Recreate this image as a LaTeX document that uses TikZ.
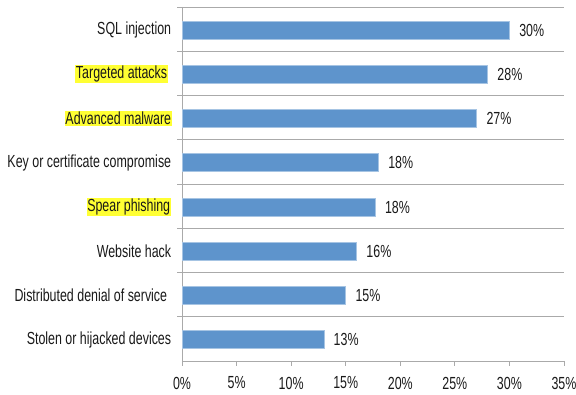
\documentclass[tikz,border=0pt]{standalone}
\usepackage{fontspec}
\setmainfont{Liberation Sans}
\definecolor{barblue}{RGB}{94,148,204}
\definecolor{gridgray}{RGB}{170,170,170}
\definecolor{marker}{RGB}{255,255,51}
\tikzset{
  lbl/.style={font=\fontsize{17.5}{20}\selectfont, text=black!90, inner sep=1pt, xscale=0.71, transform shape},
  catlbl/.style={lbl, anchor=east},
  hilite/.style={catlbl, fill=marker},
  vallbl/.style={lbl, anchor=west},
  bar/.style={fill=barblue, draw=barblue!55!white, line width=0.6pt},
  gridline/.style={gridgray, line width=0.9pt}
}
\begin{document}
\begin{tikzpicture}[x=1pt, y=-1pt]
\useasboundingbox (0,0) rectangle (576,395);
% axes and separators
\draw[gridline] (182,7) -- (182,361) -- (564,361);
\foreach \k in {0,...,7}
  \draw[gridline] (177,7+44.25*\k) -- (564,7+44.25*\k);
\foreach \t/\p in {0/0,1/5,2/10,3/15,4/20,5/25,6/30,7/35}
{
\draw[gridline] (182+54.571*\t,361) -- (182+54.571*\t,366);
\node[lbl] (tick\t) at (182+54.571*\t,383) {\p\%};
}
% bars with labels
\foreach \i/\v/\len/\hl/\xe/\name in {0/30/30/0/172/SQL injection,
  1/28/28/1/168/Targeted attacks, 2/27/27/1/172/Advanced malware,
  3/18/18/0/172/Key or certificate compromise, 4/18/17.7/1/171/Spear phishing,
  5/16/16/0/172/Website hack, 6/15/15/0/168/Distributed denial of service,
  7/13/13/0/172/Stolen or hijacked devices}
{
\pgfmathsetmacro\y{30+44.25*\i}
\ifnum\hl=1
  \node[hilite] (cat\i) at (\xe,\y) {\name};
\else
  \node[catlbl] (cat\i) at (\xe,\y) {\name};
\fi
\draw[bar] (182,\y-9) rectangle (182+10.914*\len,\y+9);
\node[vallbl] (val\i) at (182+10.914*\len+9,\y) {\v\%};
}
\end{tikzpicture}
\end{document}
